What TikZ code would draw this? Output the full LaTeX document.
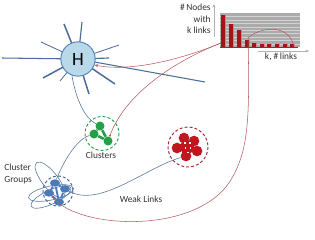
\documentclass[tikz,border=0pt]{standalone}
\usepackage{fontspec}
\setmainfont{Carlito}
\usetikzlibrary{arrows.meta, shapes.geometric}

\definecolor{hubfill}{HTML}{B9D8E8}
\definecolor{hubline}{HTML}{4F81BD}
\definecolor{spokeblue}{HTML}{4E6D9A}
\definecolor{linkblue}{HTML}{5878A0}
\definecolor{grn}{HTML}{24A148}
\definecolor{nodeblue}{HTML}{4A7AB8}
\definecolor{clred}{HTML}{C0161E}
\definecolor{ringred}{HTML}{A0262B}
\definecolor{curvered}{HTML}{B35A5E}
\definecolor{histgray}{HTML}{ABABAB}
\definecolor{stripe}{HTML}{D2D2D2}

\begin{document}
\begin{tikzpicture}[
  x=0.03cm, y=-0.03cm,
  hubnode/.style={circle, draw=hubline, line width=0.8pt, fill=hubfill, minimum size=1.03cm, inner sep=0, font=\fontsize{16}{16}\selectfont},
  spoke/.style={draw=spokeblue},
  gnode/.style={circle, fill=grn, minimum size=0.27cm, inner sep=0},
  bnode/.style={ellipse, fill=nodeblue, minimum width=0.3cm, minimum height=0.22cm, inner sep=0},
  rnode/.style={circle, fill=clred, minimum size=0.32cm, inner sep=0},
  ring/.style={dash pattern=on 2.5pt off 1.8pt, line width=0.8pt},
  link/.style={draw=linkblue, line width=0.5pt},
  redlink/.style={draw=curvered, line width=0.45pt},
  lbl/.style={font=\fontsize{8}{10}\selectfont, text=black!80, inner sep=1pt},
  ax/.style={draw=gray!60, line width=0.4pt, -{Stealth[length=3pt, width=2.5pt]}}
]
\useasboundingbox (0,0) rectangle (315,239);

% hub with its spokes
\coordinate (hc) at (78,59);
\foreach \x/\y/\w in {2/58/0.9, 64/24/1.3, 82/22/1.0, 41/42/0.7, 119/45/0.7,
                      109/58/1.0, 43/78/1.3, 60/81/0.7, 89/94/1.3, 115/84/1.3, 205/82/0.9}
  \draw[spoke, line width=\w pt] (hc) -- (\x,\y);
\node[hubnode] (hub) at (hc) {H};

% degree histogram
\fill[histgray] (220,13) rectangle (300,47);
\foreach \i in {1,...,9}
  \fill[stripe] (220,13+3.4*\i) rectangle (300,13.6+3.4*\i);
\foreach \bx/\by in {221/15, 229/24, 237/30, 245/40, 252/43, 260/44, 267/44, 275/44, 283/44, 290/44} {
  \fill[clred!85!black] (\bx,\by) rectangle (\bx+5,47);
  \fill[clred!55!white] (\bx+3.6,\by) rectangle (\bx+5,47);
}
\draw[ringred, line width=0.6pt] (220,47) -- (298,47);
\draw[ax] (214,37) -- (214,4);
\draw[ax] (258,51) -- (309,51);
\node[lbl, align=right, anchor=east] (ylbl) at (212,19) {\#\,Nodes\\with\\k links};
\node[lbl] (xlbl) at (281,57) {k, \#\,links};
\coordinate (hcorner) at (221,43);
\coordinate (tail) at (294,46);
\coordinate (bump) at (248,38);

% clusters
\draw[grn, ring] (102,133.5) circle (17);
\node[gnode] (g1) at (100,126) {};
\node[gnode] (g2) at (94,134) {};
\node[gnode] (g3) at (108,141) {};
\draw[grn, line width=2.2pt] (g1) -- (g2) (g1) -- (g3) (g2) -- (g3);
\node[lbl] (clbl) at (101,155) {Clusters};

% cluster groups
\draw[link, rotate around={-52:(50,180)}] (50,180) ellipse [x radius=22, y radius=8];
\draw[link, rotate around={12:(51,193)}] (51,193) ellipse [x radius=23, y radius=7];
\draw[link, rotate around={25:(51,197)}] (51,197) ellipse [x radius=22, y radius=7];
\draw[nodeblue!80!black, ring] (58,191) circle (15);
\node[bnode] (b1) at (55,183) {};
\node[bnode] (b2) at (65,189) {};
\node[bnode] (b3) at (49,193) {};
\node[bnode] (b4) at (59,202) {};
\draw[nodeblue, line width=1.6pt] (b1) -- (b2) (b1) -- (b3) (b2) -- (b4) (b3) -- (b4) (b1) -- (b4);
\node[lbl, align=left, anchor=west] (glbl) at (3,174) {Cluster\\Groups};

% remote cluster
\draw[ringred, ring] (188,147) circle (20);
\node[rnode, minimum size=0.42cm] (rc) at (187,147) {};
\node[rnode] (r1) at (184,138) {};
\node[rnode] (r2) at (194,141) {};
\node[rnode] (r3) at (197,151) {};
\node[rnode] (r4) at (186,156) {};
\node[rnode] (r5) at (177,148) {};
\foreach \wx/\wy in {184/142, 189/142, 184.5/147, 189.5/147, 187/151.5}
  \fill[white] (\wx,\wy) rectangle ++(1.8,1.8);

% links
\draw[link] (hub.250) .. controls (76,100) and (85,118) .. (g1);
\draw[link] (g2) .. controls (75,140) and (62,165) .. (b1);
\draw[link] (b2) .. controls (100,208) and (145,168) .. (r4);
\node[lbl] (wlbl) at (141,199) {Weak Links};

\draw[redlink, -{Stealth[length=3pt, width=2.5pt]}] (hcorner) .. controls (180,60) and (130,72) .. (hub.-20);
\draw[redlink, -{Circle[length=1.8pt]}] (hcorner) .. controls (172,62) and (125,95) .. (g3);
\draw[redlink, -{Circle[length=1.8pt]}] (tail) .. controls (288,22) and (258,28) .. (bump)
  .. controls (250,120) and (248,150) .. (232,178)
  .. controls (200,235) and (80,230) .. (b3);
\end{tikzpicture}
\end{document}
